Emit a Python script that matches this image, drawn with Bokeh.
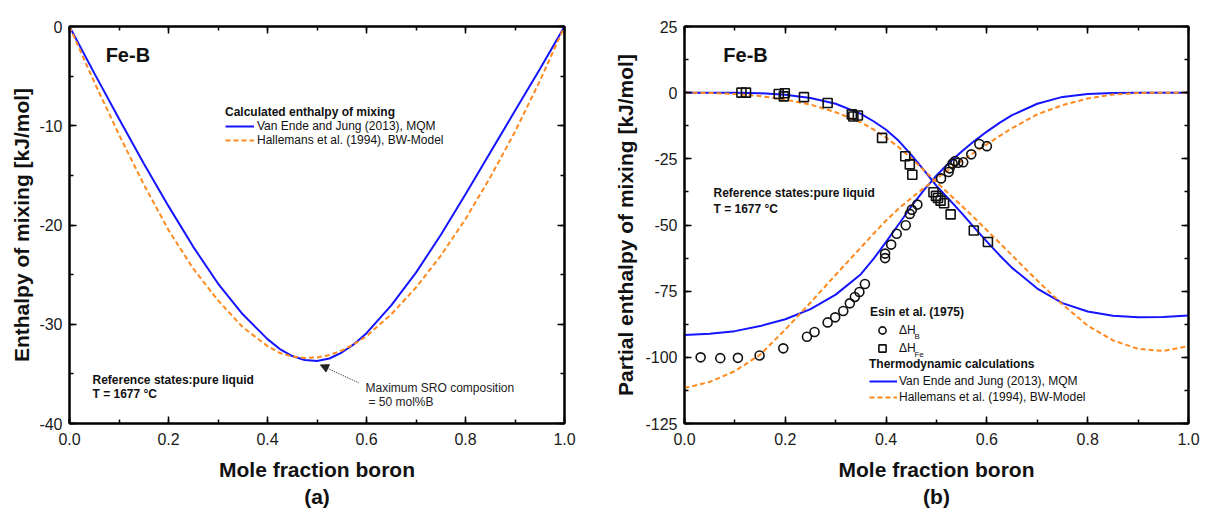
from bokeh.plotting import figure
from bokeh.models import (Range1d, LinearAxis, SingleIntervalTicker, Label, Arrow,
                          NormalHead, Legend, LegendItem, CustomJSTickFormatter)
from bokeh.layouts import row
from bokeh.embed import file_html
from bokeh.resources import INLINE

FONT = "Liberation Sans"
BLUE = "#1414ff"
ORANGE = "#ff8a1f"

# ---------------- data: panel (a) integral enthalpy of mixing ----------------
x_a = [0.0, 0.05, 0.1, 0.15, 0.2, 0.25, 0.3, 0.35, 0.4, 0.425, 0.45, 0.475, 0.5,
       0.525, 0.55, 0.575, 0.6, 0.65, 0.7, 0.75, 0.8, 0.85, 0.9, 0.95, 1.0]
h_mix_mqm = [0.0, -4.7, -9.3, -13.8, -18.1, -22.2, -25.9, -29.0, -31.5, -32.5, -33.2, -33.6, -33.7,
             -33.45, -32.85, -32.0, -30.9, -28.1, -24.8, -21.0, -16.9, -12.7, -8.5, -4.3, 0.0]
h_mix_bw = [0.0, -5.6, -10.9, -15.9, -20.5, -24.4, -27.6, -30.3, -32.2, -32.9, -33.25, -33.4, -33.35,
            -33.1, -32.65, -32.0, -31.2, -29.0, -26.3, -23.1, -19.4, -15.2, -10.6, -5.5, 0.0]

# ---------------- data: panel (b) partial enthalpies ----------------
x_b = [0.0, 0.05, 0.1, 0.15, 0.2, 0.25, 0.3, 0.35, 0.375, 0.4, 0.425, 0.45, 0.475, 0.5,
       0.525, 0.55, 0.575, 0.6, 0.625, 0.65, 0.7, 0.75, 0.8, 0.85, 0.9, 0.95, 1.0]
hB_mqm = [-91.6, -91.1, -90.1, -88.2, -85.6, -81.8, -76.3, -68.6, -62.8, -56.4, -49.7, -43.0, -36.8, -31.3,
          -26.5, -22.2, -18.3, -14.7, -11.4, -8.5, -4.2, -1.6, -0.5, -0.1, 0.0, 0.0, 0.0]
hFe_mqm = [0.0, 0.0, -0.05, -0.2, -0.8, -2.0, -4.2, -8.0, -10.8, -14.0, -18.2, -23.5, -29.3, -35.2,
           -40.3, -45.5, -51.0, -56.3, -61.4, -66.2, -74.0, -79.5, -82.7, -84.3, -84.9, -84.8, -84.2]
hB_bw = [-111.6, -109.3, -105.2, -99.0, -89.5, -79.3, -68.8, -58.5, -53.3, -48.3, -43.8, -39.8, -36.0, -32.5,
         -29.0, -25.8, -22.6, -19.5, -16.4, -13.4, -8.2, -4.7, -2.2, -0.7, -0.1, 0.0, 0.0]
hFe_bw = [0.0, -0.1, -0.5, -1.3, -2.6, -4.5, -7.4, -11.2, -13.9, -17.0, -20.6, -24.8, -29.3, -33.8,
          -38.3, -42.7, -47.3, -52.0, -56.7, -61.5, -71.0, -80.0, -88.0, -93.6, -96.8, -97.6, -95.8]

# Esin et al. (1975) experimental points
esin_B_x = [0.032, 0.071, 0.106, 0.149, 0.196, 0.243, 0.258, 0.284, 0.299, 0.315, 0.328,
            0.338, 0.347, 0.358, 0.398, 0.398, 0.410, 0.421, 0.439, 0.447, 0.451, 0.462,
            0.509, 0.524, 0.526, 0.532, 0.537, 0.543, 0.553, 0.569, 0.585, 0.600]
esin_B_y = [-100.0, -100.3, -100.2, -99.3, -96.6, -92.2, -90.4, -86.8, -84.9, -82.5, -79.6,
            -77.2, -75.3, -72.3, -62.5, -60.8, -57.4, -53.3, -50.1, -45.8, -44.2, -42.3,
            -32.4, -30.0, -28.6, -26.8, -25.8, -26.5, -26.3, -23.3, -19.4, -20.2]
esin_Fe_x = [0.113, 0.122, 0.187, 0.197, 0.199, 0.237, 0.284, 0.332, 0.335, 0.344, 0.392,
             0.438, 0.447, 0.452, 0.494, 0.499, 0.503, 0.508, 0.515, 0.528, 0.574, 0.602]
esin_Fe_y = [0.0, 0.0, -0.5, -1.4, -0.2, -1.7, -3.9, -8.2, -9.0, -8.6, -17.1,
             -24.0, -27.1, -31.0, -37.6, -39.0, -39.8, -40.8, -41.8, -46.0, -52.1, -56.4]

# tick settings
x_tick_interval = 0.2
ya_tick_interval = 10
yb_tick_interval = 25


def make_fig(ylo, yhi, left, right, top, bottom):
    p = figure(width=604, height=511, x_range=Range1d(0, 1), y_range=Range1d(ylo, yhi),
               output_backend="svg", toolbar_location=None,
               min_border_left=left, min_border_right=right,
               min_border_top=top, min_border_bottom=bottom)
    p.xgrid.visible = False
    p.ygrid.visible = False
    p.outline_line_color = "black"
    p.outline_line_width = 2
    p.background_fill_color = "white"
    p.border_fill_color = "white"
    return p


def style_axes(p, yint, xlabel, ylabel, ylabel_standoff):
    bx = p.xaxis[0]
    ly = p.yaxis[0]
    bx.ticker = SingleIntervalTicker(interval=x_tick_interval, num_minor_ticks=2)
    ly.ticker = SingleIntervalTicker(interval=yint, num_minor_ticks=2)
    bx.formatter = CustomJSTickFormatter(code="return tick.toFixed(1)")
    ly.formatter = CustomJSTickFormatter(code="return tick.toFixed(0)")
    blank = CustomJSTickFormatter(code="return ''")
    top = LinearAxis(ticker=SingleIntervalTicker(interval=x_tick_interval, num_minor_ticks=2),
                     formatter=blank)
    rgt = LinearAxis(ticker=SingleIntervalTicker(interval=yint, num_minor_ticks=2),
                     formatter=blank)
    p.add_layout(top, "above")
    p.add_layout(rgt, "right")
    for ax in (bx, ly, top, rgt):
        ax.major_tick_in = 7
        ax.major_tick_out = 0
        ax.minor_tick_in = 4
        ax.minor_tick_out = 0
        ax.axis_line_width = 2
        ax.axis_line_color = "black"
        ax.major_tick_line_width = 1.5
        ax.minor_tick_line_width = 1.5
        ax.major_label_text_font = FONT
        ax.major_label_text_font_size = "16px"
        ax.major_label_text_color = "#1a1a1a"
        ax.major_label_standoff = 7
    bx.major_label_standoff = 9
    top.major_label_standoff = 0
    rgt.major_label_standoff = 0
    for ax, text, so in ((bx, xlabel, 10), (ly, ylabel, ylabel_standoff)):
        ax.axis_label = text
        ax.axis_label_text_font = FONT
        ax.axis_label_text_font_size = "21px"
        ax.axis_label_text_font_style = "bold"
        ax.axis_label_text_color = "#111111"
        ax.axis_label_standoff = so


def lab(p, x, y, text, size="12px", bold=False, color="#111111"):
    p.add_layout(Label(x=x, y=y, text=text, text_font=FONT, text_font_size=size,
                       text_font_style="bold" if bold else "normal",
                       text_align="left", text_baseline="middle", text_color=color))


# ======================= panel (a) =======================
pa = make_fig(-40, 0, 69, 40, 26, 85)
style_axes(pa, ya_tick_interval, "Mole fraction boron\n(a)", "Enthalpy of mixing [kJ/mol]", 3)

ra1 = pa.line(x_a, h_mix_mqm, line_color=BLUE, line_width=2)
ra2 = pa.line(x_a, h_mix_bw, line_color=ORANGE, line_width=2, line_dash="5 3")

leg_a = Legend(items=[LegendItem(label="Van Ende and Jung (2013), MQM", renderers=[ra1]),
                      LegendItem(label="Hallemans et al. (1994), BW-Model", renderers=[ra2])],
               title="Calculated enthalpy of mixing", location=(156, 276),
               title_text_font=FONT, title_text_font_style="bold", title_text_font_size="12px",
               title_text_color="#111111",
               label_text_font=FONT, label_text_font_size="12px", label_text_color="#111111",
               glyph_width=29, glyph_height=12, label_height=12, label_standoff=3,
               spacing=0, padding=0, margin=0, title_standoff=0,
               border_line_color=None, background_fill_alpha=0)
pa.add_layout(leg_a)

lab(pa, 0.073, -2.9, "Fe-B", size="20px", bold=True)
lab(pa, 0.0465, -35.6, "Reference states:pure liquid", bold=True)
lab(pa, 0.0465, -37.0, "T = 1677 °C", bold=True)
lab(pa, 0.598, -36.4, "Maximum SRO composition", color="#222222")
lab(pa, 0.604, -37.8, "= 50 mol%B", color="#222222")
pa.add_layout(Arrow(end=NormalHead(size=8, fill_color="#222222", line_color="#222222"),
                    x_start=0.584, y_start=-35.9, x_end=0.507, y_end=-34.1,
                    line_color="#333333", line_width=1, line_dash="1 1"))

# ======================= panel (b) =======================
pb = make_fig(-125, 25, 80, 20, 18, 86)
style_axes(pb, yb_tick_interval, "Mole fraction boron\n(b)", "Partial enthalpy of mixing [kJ/mol]", 5)

rb1 = pb.line(x_b, hB_mqm, line_color=BLUE, line_width=2)
pb.line(x_b, hFe_mqm, line_color=BLUE, line_width=2)
rb2 = pb.line(x_b, hB_bw, line_color=ORANGE, line_width=2, line_dash="5 3")
pb.line(x_b, hFe_bw, line_color=ORANGE, line_width=2, line_dash="5 3")
rc = pb.scatter(esin_B_x, esin_B_y, marker="circle", size=9, fill_color=None,
                line_color="#111111", line_width=1.6)
rs = pb.scatter(esin_Fe_x, esin_Fe_y, marker="square", size=9, fill_color=None,
                line_color="#111111", line_width=1.6)

common = dict(title_text_font=FONT, title_text_font_style="bold", title_text_font_size="12px",
              title_text_color="#111111",
              label_text_font=FONT, label_text_font_size="12px", label_text_color="#111111",
              spacing=0, padding=0, margin=0, title_standoff=2,
              border_line_color=None, background_fill_alpha=0)
leg_b1 = Legend(items=[LegendItem(label="ΔH", renderers=[rc]),
                       LegendItem(label="ΔH", renderers=[rs])],
                title="Esin et al. (1975)", location=(186, 66),
                glyph_width=24, glyph_height=18, label_height=18, label_standoff=5, **common)
leg_b2 = Legend(items=[LegendItem(label="Van Ende and Jung (2013), MQM", renderers=[rb1]),
                       LegendItem(label="Hallemans et al. (1994), BW-Model", renderers=[rb2])],
                title="Thermodynamic calculations", location=(185, 18),
                glyph_width=28, glyph_height=16, label_height=16, label_standoff=2, **common)
pb.add_layout(leg_b1)
pb.add_layout(leg_b2)
lab(pb, 0.4563, -92.2, "B", size="8px")
lab(pb, 0.4563, -98.8, "Fe", size="8px")

lab(pb, 0.077, 14.1, "Fe-B", size="20px", bold=True)
lab(pb, 0.0575, -37.8, "Reference states:pure liquid", bold=True)
lab(pb, 0.0575, -43.9, "T = 1677 °C", bold=True)

layout = row(pa, pb)
open("out.html", "w").write(file_html(layout, INLINE))
